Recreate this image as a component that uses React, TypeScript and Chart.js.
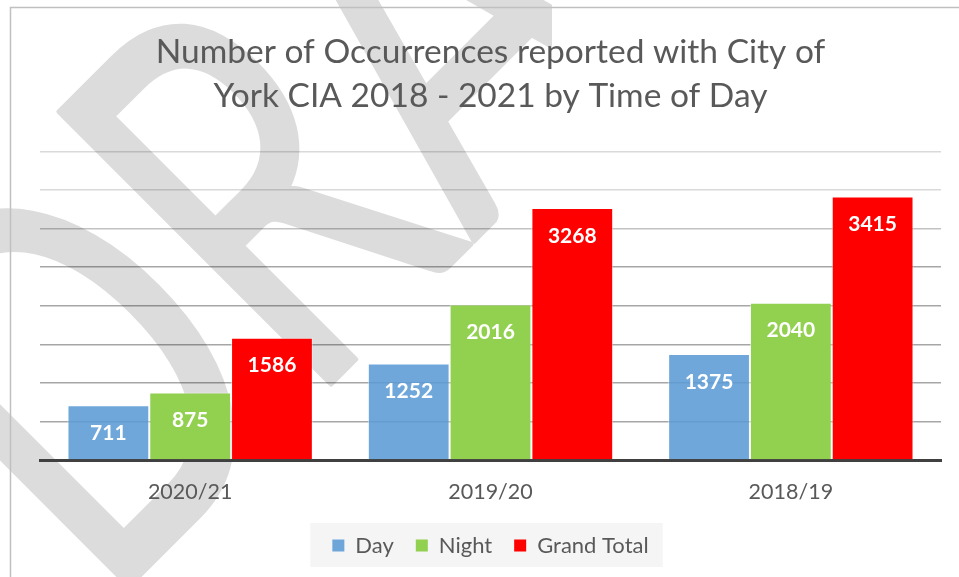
import React, { useEffect, useRef } from 'react';
import { Chart, registerables } from 'chart.js';

Chart.register(...registerables);

const categories = ['2020/21', '2019/20', '2018/19'];
const seriesNames = ['Day', 'Night', 'Grand Total'];
const dayValues = [711, 1252, 1375];
const nightValues = [875, 2016, 2040];
const totalValues = [1586, 3268, 3415];
const titleLines = ['Number of Occurrences reported with City of', 'York CIA 2018 - 2021 by Time of Day'];
const watermarkText = 'DRAFT';
const yMax = 4000;
const yStep = 500;

const FONT = 'Lato';

const backgroundPlugin = {
  id: 'pageBackground',
  beforeDraw(chart: any) {
    const ctx = chart.ctx as CanvasRenderingContext2D;
    const W = chart.width;
    const H = chart.height;
    ctx.save();
    ctx.fillStyle = '#ffffff';
    ctx.fillRect(0, 0, W, H);
    // watermark (page background, behind the chart)
    ctx.beginPath();
    ctx.rect(0, 0, 552, H);
    ctx.clip();
    const S = 537;
    const k = 0.7;
    ctx.font = `400 ${S}px ${FONT}`;
    const advD = ctx.measureText('D').width;
    const lsbR = -ctx.measureText('R').actualBoundingBoxLeft;
    const uR = k * (advD + lsbR);
    const diff = -57 - Math.SQRT2 * uR - 4;
    const sum = 715;
    const ox = (sum + diff) / 2;
    const oy = (sum - diff) / 2;
    ctx.translate(ox, oy);
    ctx.rotate(-Math.PI / 4);
    ctx.scale(k, 1);
    ctx.fillStyle = '#dcdcdc';
    ctx.strokeStyle = '#dcdcdc';
    ctx.lineWidth = 5;
    ctx.lineJoin = 'round';
    ctx.textAlign = 'left';
    ctx.textBaseline = 'alphabetic';
    ctx.fillText(watermarkText, 0, 0);
    ctx.strokeText(watermarkText, 0, 0);
    ctx.restore();

    // frame
    ctx.save();
    ctx.strokeStyle = '#c0c0c0';
    ctx.lineWidth = 1.5;
    ctx.beginPath();
    ctx.moveTo(10.5, H);
    ctx.lineTo(10.5, 7.5);
    ctx.lineTo(W, 7.5);
    ctx.stroke();
    ctx.restore();

    // legend background
    const lg = chart.legend;
    if (lg && lg.legendHitBoxes && lg.legendHitBoxes.length) {
      const hbs = lg.legendHitBoxes;
      let l = Infinity, r = -Infinity;
      hbs.forEach((hb: any) => {
        l = Math.min(l, hb.left);
        r = Math.max(r, hb.left + hb.width);
      });
      const cy = hbs[0].top + hbs[0].height / 2;
      ctx.save();
      ctx.fillStyle = '#f5f5f5';
      ctx.fillRect(l - 22, cy - 22.5, r - l + 36, 44);
      ctx.restore();
    }
  },
};

const valueLabelPlugin = {
  id: 'valueLabels',
  afterDatasetsDraw(chart: any) {
    const ctx = chart.ctx as CanvasRenderingContext2D;
    ctx.save();
    ctx.font = `bold 21px ${FONT}`;
    ctx.fillStyle = '#ffffff';
    ctx.textAlign = 'center';
    ctx.textBaseline = 'middle';
    chart.data.datasets.forEach((ds: any, i: number) => {
      const meta = chart.getDatasetMeta(i);
      meta.data.forEach((el: any, j: number) => {
        ctx.fillText(String(ds.data[j]), el.x, el.y + 28);
      });
    });
    ctx.restore();
  },
};

export default function App() {
  const ref = useRef<HTMLCanvasElement | null>(null);

  useEffect(() => {
    if (!ref.current) return;
    const chart = new Chart(ref.current, {
      type: 'bar',
      data: {
        labels: categories,
        datasets: [
          {
            label: seriesNames[0],
            data: dayValues,
            backgroundColor: 'rgba(91,155,213,0.88)',
            borderColor: 'rgba(255,255,255,0.55)',
            borderWidth: 1,
          },
          {
            label: seriesNames[1],
            data: nightValues,
            backgroundColor: '#92D050',
            borderColor: 'rgba(255,255,255,0.55)',
            borderWidth: 1,
          },
          {
            label: seriesNames[2],
            data: totalValues,
            backgroundColor: '#FF0000',
            borderColor: 'rgba(255,255,255,0.45)',
            borderWidth: 1,
          },
        ],
      },
      options: {
        responsive: false,
        animation: false,
        devicePixelRatio: 1,
        layout: { padding: { left: 40, right: 18, top: 0, bottom: 10.5 } },
        datasets: {
          bar: { categoryPercentage: 0.817, barPercentage: 1 },
        },
        scales: {
          x: {
            grid: { display: false, drawTicks: false },
            border: { display: true, color: '#404040', width: 3 },
            ticks: {
              color: '#595959',
              font: { family: FONT, size: 21.5 },
              padding: 19,
            },
            afterFit: (s: any) => {
              s.height = 52.5;
            },
          },
          y: {
            min: 0,
            max: yMax,
            ticks: { display: false, stepSize: yStep },
            border: { display: false },
            grid: {
              drawTicks: false,
              lineWidth: 1.5,
              color: (c: any) => {
                const v = c.tick ? c.tick.value : 0;
                if (v >= 3500) return 'rgba(0,0,0,0.15)';
                if (v >= 3000) return 'rgba(0,0,0,0.24)';
                return 'rgba(0,0,0,0.35)';
              },
            },
            afterFit: (s: any) => {
              s.width = 0;
            },
          },
        },
        plugins: {
          title: {
            display: true,
            text: titleLines,
            color: '#595959',
            font: { family: FONT, size: 33.5, weight: 'normal', lineHeight: '44px' },
            padding: { top: 30.5, bottom: 33 },
          },
          legend: {
            position: 'bottom',
            labels: {
              boxWidth: 12,
              boxHeight: 12,
              padding: 22,
              color: '#595959',
              font: { family: FONT, size: 22 },
              generateLabels: (ch: any) =>
                Chart.defaults.plugins.legend.labels
                  .generateLabels(ch)
                  .map((it: any) => ({ ...it, lineWidth: 0 })),
            },
          },
          tooltip: { enabled: false },
        },
      },
      plugins: [backgroundPlugin, valueLabelPlugin],
    } as any);
    return () => chart.destroy();
  }, []);

  return (
    <div style={{ position: 'fixed', left: 0, top: 0, width: 959, height: 577, background: '#fff' }}>
      <canvas ref={ref} width={959} height={577} style={{ width: 959, height: 577, display: 'block' }} />
    </div>
  );
}
